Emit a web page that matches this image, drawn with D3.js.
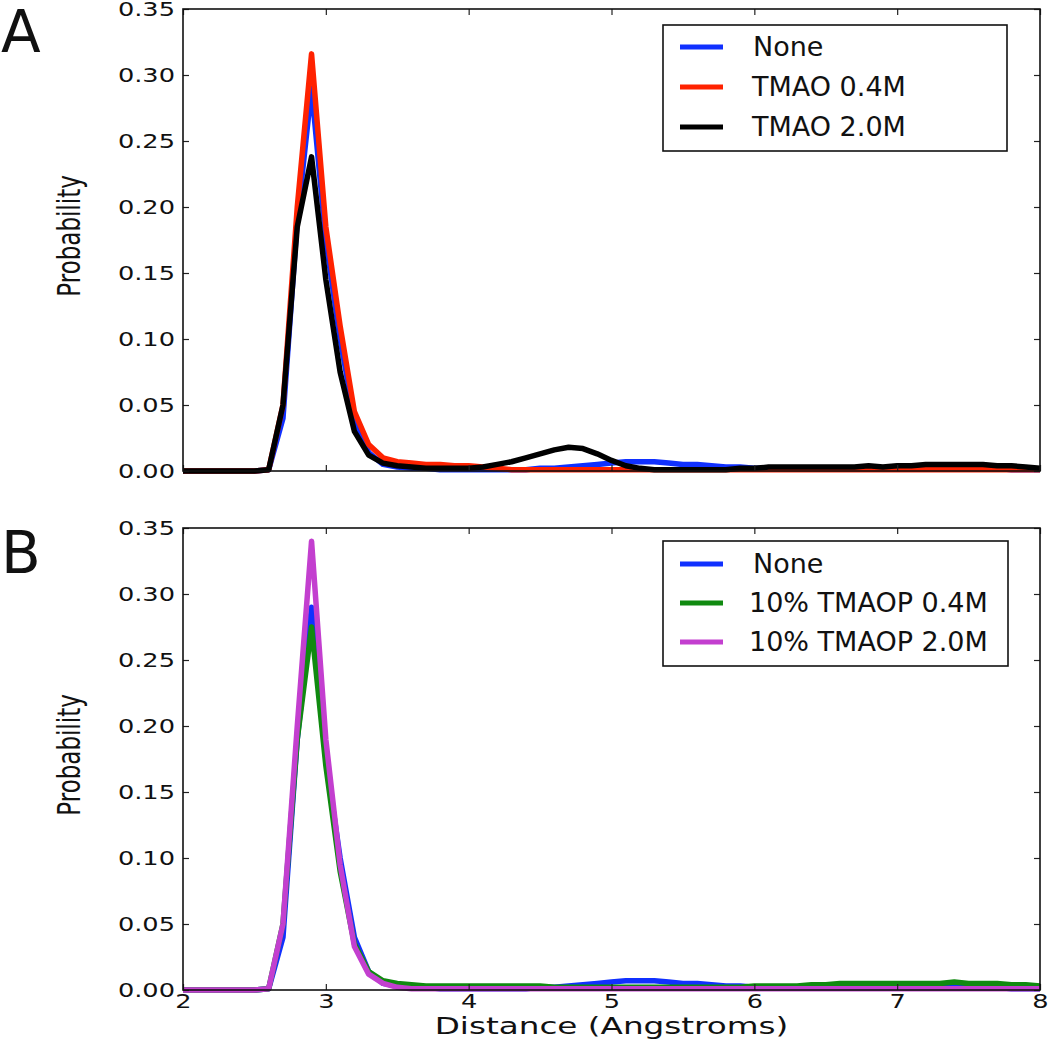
<!DOCTYPE html>
<html>
<head>
<meta charset="utf-8">
<script src="https://cdn.jsdelivr.net/npm/d3@7"></script>
<style>
  html, body { margin: 0; padding: 0; background: #fff; }
  svg { display: block; }
  text { font-family: "DejaVu Sans", sans-serif; fill: #111; }
</style>
</head>
<body>
<svg id="chart" width="1050" height="1043"></svg>
<script>
// ---------------- DATA ----------------
const distances = [
  2.0,2.1,2.2,2.3,2.4,2.5,2.6,2.7,2.8,2.9,
  3.0,3.1,3.2,3.3,3.4,3.5,3.6,3.7,3.8,3.9,
  4.0,4.1,4.2,4.3,4.4,4.5,4.6,4.7,4.8,4.9,
  5.0,5.1,5.2,5.3,5.4,5.5,5.6,5.7,5.8,5.9,
  6.0,6.1,6.2,6.3,6.4,6.5,6.6,6.7,6.8,6.9,
  7.0,7.1,7.2,7.3,7.4,7.5,7.6,7.7,7.8,7.9,
  8.0
];
const none = [
  0,0,0,0,0,0,0.001,0.04,0.19,0.29,
  0.175,0.10,0.04,0.014,0.005,0.003,0.002,0.002,0.001,0.001,
  0.001,0.001,0.001,0.001,0.001,0.002,0.002,0.003,0.004,0.005,
  0.006,0.007,0.007,0.007,0.006,0.005,0.005,0.004,0.003,0.003,
  0.002,0.002,0.002,0.002,0.002,0.002,0.002,0.002,0.002,0.002,
  0.002,0.002,0.002,0.002,0.002,0.002,0.002,0.002,0.001,0.001,
  0.001
];
const tmao04 = [
  0,0,0,0,0,0,0.001,0.05,0.20,0.316,
  0.185,0.11,0.045,0.02,0.01,0.007,0.006,0.005,0.005,0.004,
  0.004,0.003,0.002,0.001,0.001,0.001,0.001,0.001,0.001,0.001,
  0.001,0.001,0.001,0.001,0.001,0.001,0.001,0.001,0.001,0.001,
  0.001,0.001,0.001,0.001,0.001,0.001,0.001,0.001,0.001,0.001,
  0.001,0.001,0.001,0.001,0.001,0.001,0.001,0.001,0.001,0.001,
  0.001
];
const tmao20 = [
  0,0,0,0,0,0,0.001,0.05,0.185,0.238,
  0.145,0.075,0.03,0.012,0.006,0.004,0.003,0.002,0.002,0.002,
  0.002,0.003,0.005,0.007,0.010,0.013,0.016,0.018,0.017,0.013,
  0.008,0.004,0.002,0.001,0.001,0.001,0.001,0.001,0.001,0.002,
  0.002,0.003,0.003,0.003,0.003,0.003,0.003,0.003,0.004,0.003,
  0.004,0.004,0.005,0.005,0.005,0.005,0.005,0.004,0.004,0.003,
  0.002
];
const tmaop04 = [
  0,0,0,0,0,0,0.001,0.05,0.19,0.275,
  0.17,0.09,0.035,0.014,0.007,0.005,0.004,0.003,0.003,0.003,
  0.003,0.003,0.003,0.003,0.003,0.003,0.002,0.002,0.002,0.002,
  0.002,0.002,0.002,0.002,0.002,0.002,0.002,0.002,0.002,0.002,
  0.003,0.003,0.003,0.003,0.004,0.004,0.005,0.005,0.005,0.005,
  0.005,0.005,0.005,0.005,0.006,0.005,0.005,0.005,0.004,0.004,
  0.003
];
const tmaop20 = [
  0,0,0,0,0,0,0.001,0.05,0.20,0.34,
  0.19,0.095,0.033,0.012,0.005,0.002,0.001,0.001,0.001,0.001,
  0.001,0.001,0.001,0.001,0.001,0.001,0.001,0.001,0.001,0.001,
  0.001,0.001,0.001,0.001,0.001,0.001,0.001,0.001,0.001,0.001,
  0.001,0.001,0.001,0.001,0.001,0.001,0.001,0.001,0.001,0.001,
  0.001,0.001,0.001,0.001,0.001,0.001,0.001,0.001,0.001,0.001,
  0.001
];
const xTicks = [2, 3, 4, 5, 6, 7, 8];
const yTicks = [0.00, 0.05, 0.10, 0.15, 0.20, 0.25, 0.30, 0.35];
const panelALabels = ["None", "TMAO 0.4M", "TMAO 2.0M"];
const panelBLabels = ["None", "10% TMAOP 0.4M", "10% TMAOP 2.0M"];
const colorsA = ["#1030ff", "#ff2200", "#000000"];
const colorsB = ["#1030ff", "#108a10", "#c33fcf"];

// ---------------- DRAW ----------------
const svg = d3.select("#chart");
svg.append("rect").attr("width", 1050).attr("height", 1043).attr("fill", "#fff");

const left = 183, right = 1040;
const TICKSX = 1.35, LABELSX = 1.42;

function panel(opts) {
  const { top, bottom, series, colors, labels, letter, letterY, showX, legend } = opts;
  const x = d3.scaleLinear().domain([2, 8]).range([left, right]);
  const y = d3.scaleLinear().domain([0, 0.35]).range([bottom, top]);
  const g = svg.append("g");

  // lines
  const line = d3.line().x((d, i) => x(distances[i])).y(d => y(d)).curve(d3.curveLinear);
  series.forEach((s, k) => {
    g.append("path").datum(s)
      .attr("d", line)
      .attr("fill", "none")
      .attr("stroke", colors[k])
      .attr("stroke-width", 5.5)
      .attr("stroke-linejoin", "round")
      .attr("stroke-linecap", "butt");
  });

  // axes (inward ticks on all four sides)
  const ax = (axis, tr) => {
    const a = g.append("g").attr("transform", tr).call(axis);
    a.select(".domain").remove();
    a.selectAll(".tick line").attr("stroke", "#222").attr("stroke-width", 1.2);
    return a;
  };
  const yl = ax(d3.axisLeft(y).tickValues(yTicks).tickFormat(d3.format(".2f")).tickSizeInner(-6).tickSizeOuter(0).tickPadding(8),
    `translate(${left},0)`);
  yl.selectAll("text")
    .attr("font-size", 19).attr("font-family", "DejaVu Sans")
    .attr("fill", "#111")
    .attr("x", -8 / TICKSX)
    .attr("transform", `scale(${TICKSX},1)`);
  ax(d3.axisRight(y).tickValues(yTicks).tickFormat("").tickSizeInner(-6).tickSizeOuter(0), `translate(${right},0)`);
  ax(d3.axisTop(x).tickValues(xTicks).tickFormat("").tickSizeInner(-6).tickSizeOuter(0), `translate(0,${top})`);
  const xb = ax(d3.axisBottom(x).tickValues(xTicks).tickFormat(showX ? d3.format("d") : "").tickSizeInner(-6).tickSizeOuter(0),
    `translate(0,${bottom})`);
  if (showX) {
    xb.selectAll("text")
      .attr("font-size", 19).attr("font-family", "DejaVu Sans")
      .attr("fill", "#111")
      .attr("y", 5)
      .attr("transform", `scale(${TICKSX},1)`);
  }

  // frame
  g.append("rect")
    .attr("x", left).attr("y", top)
    .attr("width", right - left).attr("height", bottom - top)
    .attr("fill", "none").attr("stroke", "#111").attr("stroke-width", 1.6);

  // y label
  g.append("text")
    .attr("transform", `translate(80,${(top + bottom) / 2 - 4}) scale(${LABELSX},1) rotate(-90)`)
    .attr("text-anchor", "middle")
    .attr("font-size", 23)
    .text("Probability");

  // panel letter
  svg.append("text")
    .attr("x", 1).attr("y", letterY)
    .attr("font-family", "Liberation Sans, Arial, sans-serif")
    .attr("font-size", 58)
    .text(letter);

  // legend
  const L = legend;
  g.append("rect")
    .attr("x", L.x0).attr("y", L.y0)
    .attr("width", L.x1 - L.x0).attr("height", L.y1 - L.y0)
    .attr("fill", "#fff").attr("stroke", "#111").attr("stroke-width", 1.6);
  labels.forEach((lab, k) => {
    const ly = L.rows[k];
    g.append("line")
      .attr("x1", 680).attr("x2", 723).attr("y1", ly).attr("y2", ly)
      .attr("stroke", colors[k]).attr("stroke-width", 5);
    g.append("text")
      .attr("x", L.tx[k]).attr("y", ly + 9)
      .attr("font-size", 27)
      .text(lab);
  });
}

panel({
  top: 9, bottom: 471,
  series: [none, tmao04, tmao20], colors: colorsA, labels: panelALabels,
  letter: "A", letterY: 52, showX: false,
  legend: { x0: 663, x1: 1007, y0: 25, y1: 151, rows: [47, 87, 127], tx: [753, 752, 752] }
});
panel({
  top: 528, bottom: 990,
  series: [none, tmaop04, tmaop20], colors: colorsB, labels: panelBLabels,
  letter: "B", letterY: 573, showX: true,
  legend: { x0: 663, x1: 1008, y0: 541, y1: 666, rows: [564, 603, 642], tx: [753, 749, 749] }
});

// x axis label
svg.append("text")
  .attr("transform", `translate(${(left + right) / 2},1034) scale(${LABELSX},1)`)
  .attr("text-anchor", "middle")
  .attr("font-size", 23)
  .text("Distance (Angstroms)");
</script>
</body>
</html>
